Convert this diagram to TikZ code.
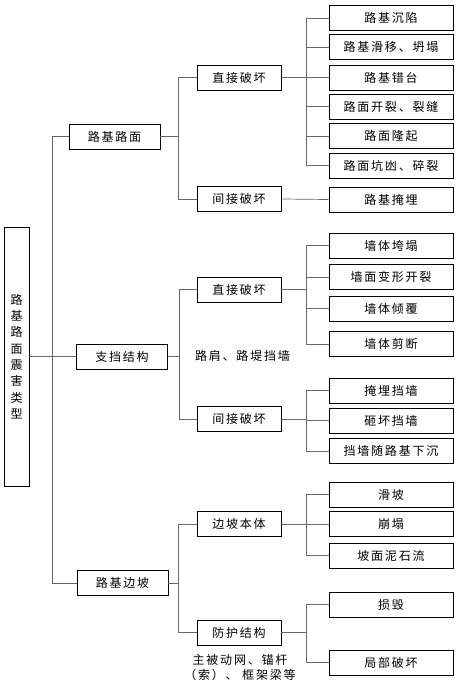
\documentclass[tikz,border=0pt]{standalone}
\usepackage{fontspec}
\newfontfamily\cjk[LetterSpace=15]{Noto Sans CJK SC}
\usetikzlibrary{positioning,calc}
\tikzset{
  rootbox/.style = {draw, line width=0.8pt, minimum width=25pt, minimum height=259pt,
                    inner sep=0pt, align=center, font=\cjk\fontsize{12}{16.3}\selectfont},
  catbox/.style  = {draw, line width=0.8pt, minimum width=91pt, minimum height=25pt, inner sep=0pt},
  kindbox/.style = {draw, line width=0.8pt, minimum width=84pt, minimum height=25pt, inner sep=0pt},
  leafbox/.style = {draw, line width=0.8pt, minimum width=124pt, minimum height=25pt, inner sep=0pt},
  link/.style    = {line width=0.7pt, draw=black!60},
}
\begin{document}
\begin{tikzpicture}[x=1pt, y=-1pt, every node/.style={font=\cjk\fontsize{12}{14}\selectfont}]
    \useasboundingbox (0,0) rectangle (460,688);

    %% Root and categories
    \node[rootbox] (root) at (16.5,356.5) {路\\基\\路\\面\\震\\害\\类\\型};
    \node[catbox] (road)  at (114.5,136.5) {路基路面};
    \node[catbox] (wall)  at (122,356.5)   {支挡结构};
    \node[catbox] (slope) at (122.5,583)   {路基边坡};

    %% Damage kinds
    \foreach \n/\y/\lbl in {roadD/77.5/直接破坏, roadI/199/间接破坏,
                            wallD/289.5/直接破坏, wallI/419/间接破坏,
                            slopeB/524/边坡本体, slopeP/632.5/防护结构}
      \node[kindbox] (\n) at (239,\y) {\lbl};

    %% Damage forms
    \foreach \n/\y/\lbl in {sink/18/路基沉陷, slide/47/路基滑移、坍塌, step/77.5/路基错台,
                            crack/106.5/路面开裂、裂缝, heave/136/路面隆起, pit/165.5/路面坑凼、碎裂,
                            bury/199.5/路基掩埋,
                            collapse/245.5/墙体垮塌, deform/277/墙面变形开裂,
                            topple/308.5/墙体倾覆, shear/344/墙体剪断,
                            wbury/390.5/掩埋挡墙, smash/420.5/砸坏挡墙, settle/451/挡墙随路基下沉,
                            landslide/494.5/滑坡, fall/524/崩塌, flow/555.5/坡面泥石流,
                            ruin/604.5/损毁, part/662.5/局部破坏}
      \node[leafbox] (\n) at (391,\y) {\lbl};

    %% Notes
    \node (wallnote) at (242.5,356) {路肩、路堤挡墙};
    \node[align=center, font=\cjk\fontsize{12}{15}\selectfont] (slopenote) at (240,667.5)
         {主被动网、锚杆\\（索）、 框架梁等};

    %% Trunk
    \draw[link] (root.east) -- (wall.west);
    \draw[link] (road.west) -- ++(-16,0) |- (slope.west);

    %% Category to kinds
    \draw[link] (road.east) -- ++(18,0) coordinate (roadJ);
    \foreach \c in {roadD, roadI} \draw[link] (roadJ) |- (\c.west);
    \draw[link] (wall.east) -- ++(11,0) coordinate (wallJ);
    \foreach \c in {wallD, wallI} \draw[link] (wallJ) |- (\c.west);
    \draw[link] (slope.east) -- ++(10,0) coordinate (slopeJ);
    \foreach \c in {slopeB, slopeP} \draw[link] (slopeJ) |- (\c.west);

    %% Kinds to forms
    \draw[link] (roadD.east) -- ++(25,0) coordinate (roadDJ);
    \foreach \c in {sink, slide, step, crack, heave, pit} \draw[link] (roadDJ) |- (\c.west);
    \draw[link] (roadI.east) -- (bury.west);
    \draw[link] (wallD.east) -- ++(25,0) coordinate (wallDJ);
    \foreach \c in {collapse, deform, topple, shear} \draw[link] (wallDJ) |- (\c.west);
    \draw[link] (wallI.east) -- ++(25,0) coordinate (wallIJ);
    \foreach \c in {wbury, smash, settle} \draw[link] (wallIJ) |- (\c.west);
    \draw[link] (slopeB.east) -- ++(25,0) coordinate (slopeBJ);
    \foreach \c in {landslide, fall, flow} \draw[link] (slopeBJ) |- (\c.west);
    \draw[link] (slopeP.east) -- ++(25,0) coordinate (slopePJ);
    \foreach \c in {ruin, part} \draw[link] (slopePJ) |- (\c.west);

  \end{tikzpicture}
\end{document}
